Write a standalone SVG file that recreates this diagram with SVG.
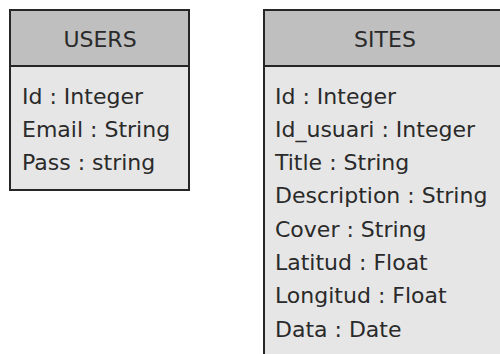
<svg xmlns="http://www.w3.org/2000/svg" width="500" height="354" viewBox="0 0 500 354">
<style>
.hdr{fill:#bfbfbf;stroke:none}
.body{fill:#e6e6e6;stroke:none}
.frame{fill:none;stroke:#262626;stroke-width:2}
.t{font-family:"DejaVu Sans","Liberation Sans",sans-serif;font-size:22px;fill:#2a2a2a}
.h{text-anchor:middle}
</style>
<rect width="500" height="354" fill="#ffffff"/>
<g id="users">
<rect class="body" x="10" y="66" width="179" height="124"/>
<rect class="hdr" x="10" y="10" width="179" height="56"/>
<rect class="frame" x="10" y="10" width="179" height="180"/>
<line class="frame" x1="10" y1="66" x2="189" y2="66"/>
<text class="t h" x="100" y="47">USERS</text>
<text class="t" x="22" y="104">Id : Integer</text>
<text class="t" x="22" y="137">Email : String</text>
<text class="t" x="22" y="170">Pass : string</text>
</g>
<g id="sites">
<rect class="body" x="264" y="66" width="242" height="300"/>
<rect class="hdr" x="264" y="10" width="242" height="56"/>
<rect class="frame" x="264" y="10" width="242" height="360"/>
<line class="frame" x1="264" y1="66" x2="506" y2="66"/>
<text class="t h" x="385" y="47">SITES</text>
<text class="t" x="275" y="104">Id : Integer</text>
<text class="t" x="275" y="137">Id_usuari : Integer</text>
<text class="t" x="275" y="170">Title : String</text>
<text class="t" x="275" y="203">Description : String</text>
<text class="t" x="275" y="236.5">Cover : String</text>
<text class="t" x="275" y="270">Latitud : Float</text>
<text class="t" x="275" y="303">Longitud : Float</text>
<text class="t" x="275" y="336.5">Data : Date</text>
</g>
<g id="connectors"></g>
</svg>
